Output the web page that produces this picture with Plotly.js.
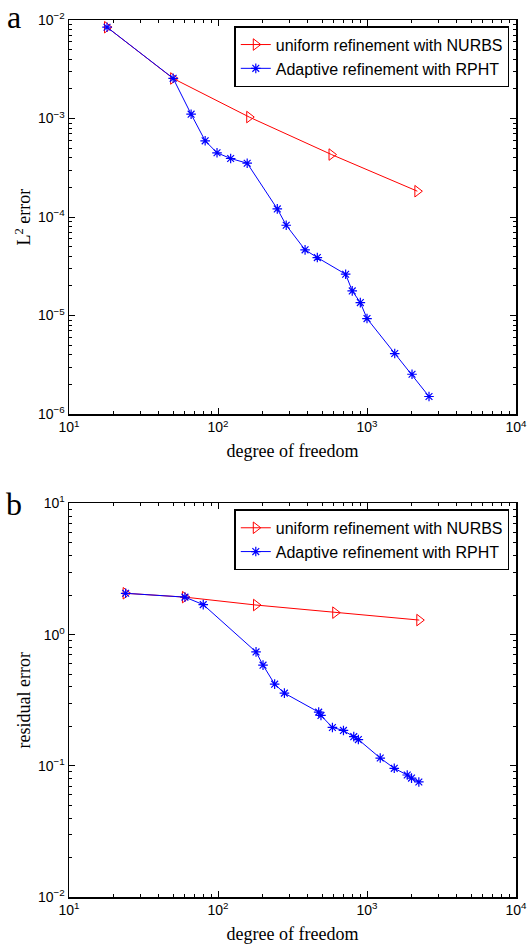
<!DOCTYPE html>
<html>
<head>
<meta charset="utf-8">
<script src="https://cdn.plot.ly/plotly-3.0.1.min.js"></script>
<style>html,body{margin:0;padding:0;background:#fff;}#chart{width:528px;height:945px;}</style>
</head>
<body>
<div id="chart"></div>
<script>
// Panel a: L2 error
const aUniformDof = [18, 50, 162, 578, 2178];
const aUniformErr = [8.45e-3, 2.55e-3, 1.035e-3, 4.31e-4, 1.83e-4];
const aAdaptiveDof = [18, 50, 66, 82, 98.5, 121.6, 157, 250, 287, 384, 464, 719, 796, 902, 1000, 1535, 2005, 2607];
const aAdaptiveErr = [8.45e-3, 2.56e-3, 1.107e-3, 5.94e-4, 4.49e-4, 3.93e-4, 3.52e-4, 1.21e-4, 8.26e-5, 4.65e-5, 3.88e-5, 2.63e-5, 1.78e-5, 1.355e-5, 9.33e-6, 4.12e-6, 2.54e-6, 1.51e-6];

// Panel b: residual error
const bUniformDof = [24, 60, 180, 612, 2244];
const bUniformErr = [2.065, 1.93, 1.68, 1.47, 1.29];
const bAdaptiveDof = [24, 60, 79.6, 180, 200.5, 240, 279, 474, 491, 586, 695, 815, 875, 1227, 1524, 1862, 1990, 2228];
const bAdaptiveErr = [2.065, 1.93, 1.692, 0.738, 0.585, 0.419, 0.358, 0.2565, 0.242, 0.196, 0.186, 0.1668, 0.1585, 0.1146, 0.0957, 0.0851, 0.0806, 0.0753];

const seriesNames = ['uniform refinement with NURBS', 'Adaptive refinement with RPHT'];
const xTickVals = [10, 100, 1000, 10000];
const xTickText = ['10<sup>1</sup>', '10<sup>2</sup>', '10<sup>3</sup>', '10<sup>4</sup>'];
const aYTickVals = [1e-6, 1e-5, 1e-4, 1e-3, 1e-2];
const aYTickText = ['10<sup>\u22126</sup>', '10<sup>\u22125</sup>', '10<sup>\u22124</sup>', '10<sup>\u22123</sup>', '10<sup>\u22122</sup>'];
const bYTickVals = [1e-2, 1e-1, 1, 10];
const bYTickText = ['10<sup>\u22122</sup>', '10<sup>\u22121</sup>', '10<sup>0</sup>', '10<sup>1</sup>'];

function minorVals(lo, hi) {
  const out = [];
  for (let e = lo; e < hi; e++) for (let m = 2; m <= 9; m++) out.push(m * Math.pow(10, e));
  return out;
}

const RED = '#ff0000', BLUE = '#0000ff';
const traces = [
  {x: aUniformDof, y: aUniformErr, xaxis: 'x', yaxis: 'y', name: seriesNames[0], legend: 'legend',
   mode: 'lines+markers', line: {color: RED, width: 1}, marker: {symbol: 'triangle-right-open', size: 10, color: RED, line: {width: 1, color: RED}}},
  {x: aAdaptiveDof, y: aAdaptiveErr, xaxis: 'x', yaxis: 'y', name: seriesNames[1], legend: 'legend',
   mode: 'lines+markers', line: {color: BLUE, width: 1}, marker: {symbol: 'asterisk-open', size: 8, color: BLUE, line: {width: 1.2, color: BLUE}}},
  {x: bUniformDof, y: bUniformErr, xaxis: 'x2', yaxis: 'y2', name: seriesNames[0], legend: 'legend2',
   mode: 'lines+markers', line: {color: RED, width: 1}, marker: {symbol: 'triangle-right-open', size: 10, color: RED, line: {width: 1, color: RED}}},
  {x: bAdaptiveDof, y: bAdaptiveErr, xaxis: 'x2', yaxis: 'y2', name: seriesNames[1], legend: 'legend2',
   mode: 'lines+markers', line: {color: BLUE, width: 1}, marker: {symbol: 'asterisk-open', size: 8, color: BLUE, line: {width: 1.2, color: BLUE}}}
];

const tickFont = {family: 'Liberation Sans, Arial, sans-serif', size: 14, color: '#000'};
const titleFont = {family: 'Liberation Serif, Times New Roman, serif', size: 18, color: '#000'};

function xAxis(domainAnchor) {
  return {
    type: 'log', range: [1, 4], anchor: domainAnchor,
    tickmode: 'array', tickvals: xTickVals, ticktext: xTickText,
    ticks: 'inside', ticklen: 6, tickwidth: 1, tickcolor: '#000',
    showline: true, linecolor: '#000', linewidth: 1.5, mirror: 'ticks',
    showgrid: false, zeroline: false, tickfont: tickFont,
    minor: {tickmode: 'array', tickvals: minorVals(1, 4), ticks: 'inside', ticklen: 3, tickcolor: '#000', tickwidth: 1, showgrid: false},
    title: {text: 'degree of freedom', font: titleFont, standoff: 10}
  };
}
function yAxis(range, vals, text, title, domain, anchor) {
  return {
    type: 'log', range: range, domain: domain, anchor: anchor,
    tickmode: 'array', tickvals: vals, ticktext: text,
    ticks: 'inside', ticklen: 6, tickwidth: 1, tickcolor: '#000',
    showline: true, linecolor: '#000', linewidth: 1.5, mirror: 'ticks',
    showgrid: false, zeroline: false, tickfont: tickFont,
    minor: {tickmode: 'array', tickvals: minorVals(range[0], range[1]), ticks: 'inside', ticklen: 3, tickcolor: '#000', tickwidth: 1, showgrid: false},
    title: {text: title, font: titleFont, standoff: 2}
  };
}

const legendBase = {
  xref: 'paper', yref: 'paper', xanchor: 'right', yanchor: 'top',
  bgcolor: '#fff', bordercolor: '#000', borderwidth: 1.5,
  font: {family: 'Liberation Sans, Arial, sans-serif', size: 16, color: '#000'},
  tracegroupgap: 0, itemwidth: 30
};

const layout = {
  width: 528, height: 945,
  margin: {l: 69, r: 12, t: 20, b: 48},
  paper_bgcolor: '#fff', plot_bgcolor: '#fff',
  showlegend: true,
  xaxis: xAxis('y'),
  yaxis: yAxis([-6, -2], aYTickVals, aYTickText, 'L<sup>2</sup> error', [0.5506, 1], 'x'),
  xaxis2: xAxis('y2'),
  yaxis2: yAxis([-2, 1], bYTickVals, bYTickText, 'residual error', [0, 0.4488], 'x2'),
  legend: Object.assign({}, legendBase, {x: 0.985, y: 0.993}),
  legend2: Object.assign({}, legendBase, {x: 0.985, y: 0.442}),
  annotations: [
    {text: 'a', xref: 'paper', yref: 'paper', x: -0.123, y: 1.003, xanchor: 'center', yanchor: 'middle', showarrow: false,
     font: {family: 'Liberation Serif, Times New Roman, serif', size: 32, color: '#000'}},
    {text: 'b', xref: 'paper', yref: 'paper', x: -0.123, y: 0.448, xanchor: 'center', yanchor: 'middle', showarrow: false,
     font: {family: 'Liberation Serif, Times New Roman, serif', size: 32, color: '#000'}}
  ]
};

Plotly.newPlot('chart', traces, layout, {staticPlot: true, displayModeBar: false});
</script>
</body>
</html>
